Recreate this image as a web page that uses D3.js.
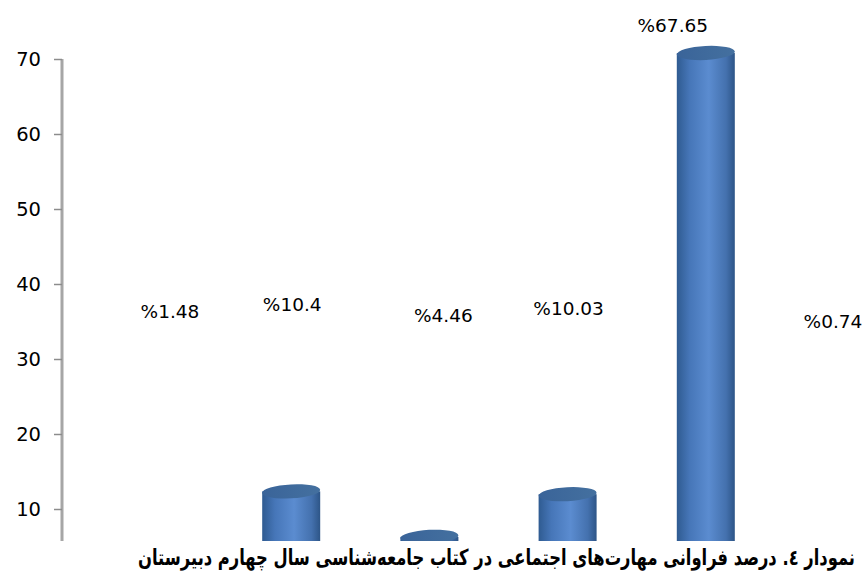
<!DOCTYPE html>
<html>
<head>
<meta charset="utf-8">
<script src="https://cdn.jsdelivr.net/npm/d3@7"></script>
<style>
  body { margin: 0; background: #fff; }
  svg { display: block; }
</style>
</head>
<body>
<script>
// values (bars 1 and 6 sit below the cut)
var categories = ["c1", "c2", "c3", "c4", "c5", "c6"]
var values = [1.48, 10.4, 4.46, 10.03, 67.65, 0.74]
var valueLabels = ["%1.48", "%10.4", "%4.46", "%10.03", "%67.65", "%0.74"]
var yTicks = [10, 20, 30, 40, 50, 60, 70]
var caption = "نمودار ٤. درصد فراوانی مهارت‌های اجتماعی در کتاب جامعه‌شناسی سال چهارم دبیرستان"

var width = 865, height = 578
var cutY = 541

var svg = d3.select("body").append("svg")
    .attr("width", width)
    .attr("height", height)

var defs = svg.append("defs")

var grad = defs.append("linearGradient")
    .attr("id", "cyl")
    .attr("x1", "0%").attr("x2", "100%")
    .attr("y1", "0%").attr("y2", "0%")
grad.append("stop").attr("offset", "0%").attr("stop-color", "#2f5b91")
grad.append("stop").attr("offset", "22%").attr("stop-color", "#4676b8")
grad.append("stop").attr("offset", "55%").attr("stop-color", "#5b8cd0")
grad.append("stop").attr("offset", "85%").attr("stop-color", "#4471ae")
grad.append("stop").attr("offset", "100%").attr("stop-color", "#2d5587")

var topGrad = defs.append("linearGradient")
    .attr("id", "cylTop")
    .attr("x1", "0%").attr("x2", "100%")
    .attr("y1", "0%").attr("y2", "0%")
topGrad.append("stop").attr("offset", "0%").attr("stop-color", "#3a6499")
topGrad.append("stop").attr("offset", "100%").attr("stop-color", "#44709f")

defs.append("clipPath").attr("id", "plotClip")
  .append("rect")
    .attr("x", 0).attr("y", 0)
    .attr("width", width).attr("height", cutY)

// axis scale and the (slightly different) 3d bar scale
var y = d3.scaleLinear().domain([0, 70]).range([584, 59])
var yBar = d3.scaleLinear().domain([0, 70]).range([571, 35])
var x = d3.scalePoint().domain(categories).range([153, 844])
var barW = 58, rx = 29, ry = 7

var plot = svg.append("g").attr("clip-path", "url(#plotClip)")

// y axis
var axis = plot.append("g")
    .attr("transform", "translate(62,0)")
    .call(d3.axisLeft(y).tickValues(yTicks).tickSize(8).tickPadding(13))
axis.select(".domain")
    .attr("d", "M0," + y(70) + "V" + cutY)
    .attr("stroke", "#a6a6a6")
    .attr("stroke-width", 3)
axis.selectAll(".tick line")
    .attr("stroke", "#8c8c8c")
    .attr("stroke-width", 1.5)
axis.selectAll(".tick text")
    .attr("fill", "#000")
    .style("font-family", "DejaVu Sans, sans-serif")
    .style("font-size", "19.5px")

var data = categories.map(function(c, i) { return { cat: c, value: values[i], label: valueLabels[i] } })

var bars = plot.selectAll(".bar")
    .data(data)
    .enter().append("g")
    .attr("class", "bar")

bars.append("rect")
    .attr("x", function(d) { return x(d.cat) - barW / 2 })
    .attr("y", function(d) { return yBar(d.value) })
    .attr("width", barW)
    .attr("height", function(d) { return height - yBar(d.value) })
    .attr("fill", "url(#cyl)")

bars.append("ellipse")
    .attr("cx", function(d) { return x(d.cat) })
    .attr("cy", function(d) { return yBar(d.value) })
    .attr("rx", rx)
    .attr("ry", ry)
    .attr("fill", "url(#cylTop)")
    .attr("transform", function(d) { return "rotate(-3," + x(d.cat) + "," + yBar(d.value) + ")" })

// data labels, placed the way the source chart left them
var labelDx = [17, 1, 14, 1, -33, -11]
var labelDy = [1, -6, 5, -2, 0, 11]
svg.append("g").selectAll("text")
    .data(data)
    .enter().append("text")
    .attr("x", function(d, i) { return x(d.cat) + labelDx[i] })
    .attr("y", function(d, i) {
      return d.value > 40 ? yBar(d.value) - 21 : y(36.5) + 7 + labelDy[i]
    })
    .attr("text-anchor", "middle")
    .style("font-family", "DejaVu Sans, sans-serif")
    .style("font-size", "18.5px")
    .attr("fill", "#000")
    .text(function(d) { return d.label })

// caption
svg.append("text")
    .attr("x", 855)
    .attr("y", 565)
    .attr("direction", "rtl")
    .attr("text-anchor", "start")
    .attr("textLength", 717)
    .attr("lengthAdjust", "spacingAndGlyphs")
    .style("font-family", "DejaVu Sans, sans-serif")
    .style("font-weight", "bold")
    .style("font-size", "22px")
    .attr("fill", "#000")
    .text(caption)
</script>
</body>
</html>
